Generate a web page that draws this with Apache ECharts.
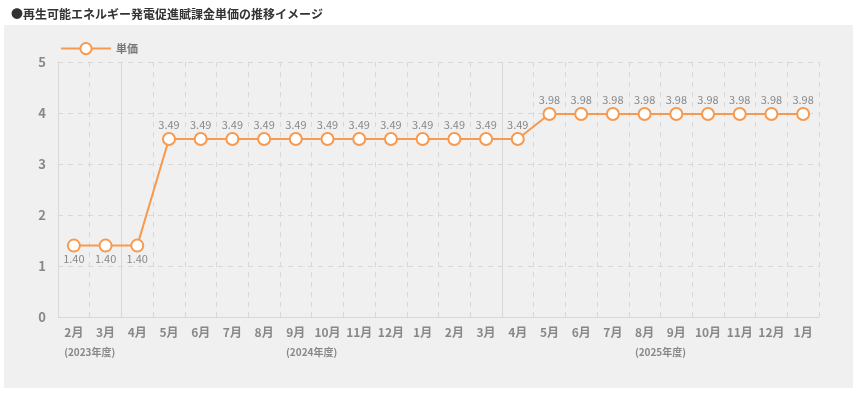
<!DOCTYPE html>
<html>
<head>
<meta charset="utf-8">
<script src="https://cdn.jsdelivr.net/npm/echarts@6/dist/echarts.min.js"></script>
<style>
  html, body { margin: 0; padding: 0; background: #fff; }
  #chart { width: 858px; height: 397px; }
</style>
</head>
<body>
<div id="chart"></div>
<script>
// 月ラベル（2023年2月〜2025年1月）
const months = ['2月', '3月', '4月', '5月', '6月', '7月', '8月', '9月', '10月', '11月', '12月', '1月',
    '2月', '3月', '4月', '5月', '6月', '7月', '8月', '9月', '10月', '11月', '12月', '1月'];
// 単価（円/kWh）
const prices = [1.40, 1.40, 1.40, 3.49, 3.49, 3.49, 3.49, 3.49, 3.49, 3.49, 3.49, 3.49,
    3.49, 3.49, 3.49, 3.98, 3.98, 3.98, 3.98, 3.98, 3.98, 3.98, 3.98, 3.98];
// 年度ラベルと位置（カテゴリ境界の位置）
const fyLabels = ['(2023年度)', '(2024年度)', '(2025年度)'];
const fyLabelPos = [1, 8, 19];
// 年度の区切り線（4月の手前）
const fyBorders = [2, 14];

const font = "'Noto Sans CJK JP', sans-serif";
const orange = '#f7994e';

const chart = echarts.init(document.getElementById('chart'));

chart.setOption({
    animation: false,
    textStyle: { fontFamily: font },
    title: {
        text: '●再生可能エネルギー発電促進賦課金単価の推移イメージ',
        left: 6,
        top: 3,
        textStyle: { fontSize: 12, fontWeight: 'bold', color: '#333', fontFamily: font }
    },
    graphic: [{
        type: 'rect',
        z: -10,
        shape: { x: 4, y: 25, width: 849, height: 363 },
        style: { fill: '#f0f0f0' }
    }],
    legend: {
        left: 55,
        top: 37,
        itemWidth: 50,
        itemHeight: 14,
        itemGap: 6,
        data: ['単価'],
        textStyle: { color: '#777', fontSize: 11, fontWeight: 'bold', fontFamily: font }
    },
    grid: { left: 58, right: 39, top: 62, bottom: 80 },
    xAxis: [
        {
            type: 'category',
            data: months,
            boundaryGap: true,
            axisLine: { lineStyle: { color: '#d8d8d8' } },
            axisTick: { show: false },
            axisLabel: { color: '#888', fontSize: 12, fontWeight: 'bold', margin: 9, interval: 0 },
            splitLine: { show: true, interval: 0, lineStyle: { color: '#d8d8d8', type: [5, 5] } }
        },
        {
            type: 'value',
            position: 'bottom',
            min: 0,
            max: 24,
            axisLine: { show: false },
            axisTick: { show: false, customValues: fyBorders },
            axisLabel: {
                customValues: fyLabelPos,
                margin: 30,
                color: '#888',
                fontSize: 10,
                fontWeight: 'bold',
                formatter: function (v) {
                    return fyLabels[fyLabelPos.indexOf(v)];
                }
            },
            splitLine: { show: true, lineStyle: { color: '#d8d8d8', type: 'solid' } }
        }
    ],
    yAxis: {
        type: 'value',
        min: 0,
        max: 5,
        interval: 1,
        axisLine: { show: true, lineStyle: { color: '#d8d8d8' } },
        axisTick: { show: false },
        axisLabel: { color: '#888', fontSize: 13, fontWeight: 'bold', margin: 12 },
        splitLine: { show: true, lineStyle: { color: '#d8d8d8', type: [5, 5] } }
    },
    series: [{
        name: '単価',
        type: 'line',
        data: prices.map(function (v) {
            return {
                value: v,
                label: { position: v < 2 ? 'bottom' : 'top', distance: v < 2 ? 1 : 2 }
            };
        }),
        symbol: 'circle',
        symbolSize: 12,
        lineStyle: { color: orange, width: 2 },
        itemStyle: { color: '#fff', borderColor: orange, borderWidth: 2 },
        label: {
            show: true,
            color: '#888',
            fontSize: 11,
            formatter: function (p) { return p.value.toFixed(2); }
        },
        z: 5
    }]
});
</script>
</body>
</html>
